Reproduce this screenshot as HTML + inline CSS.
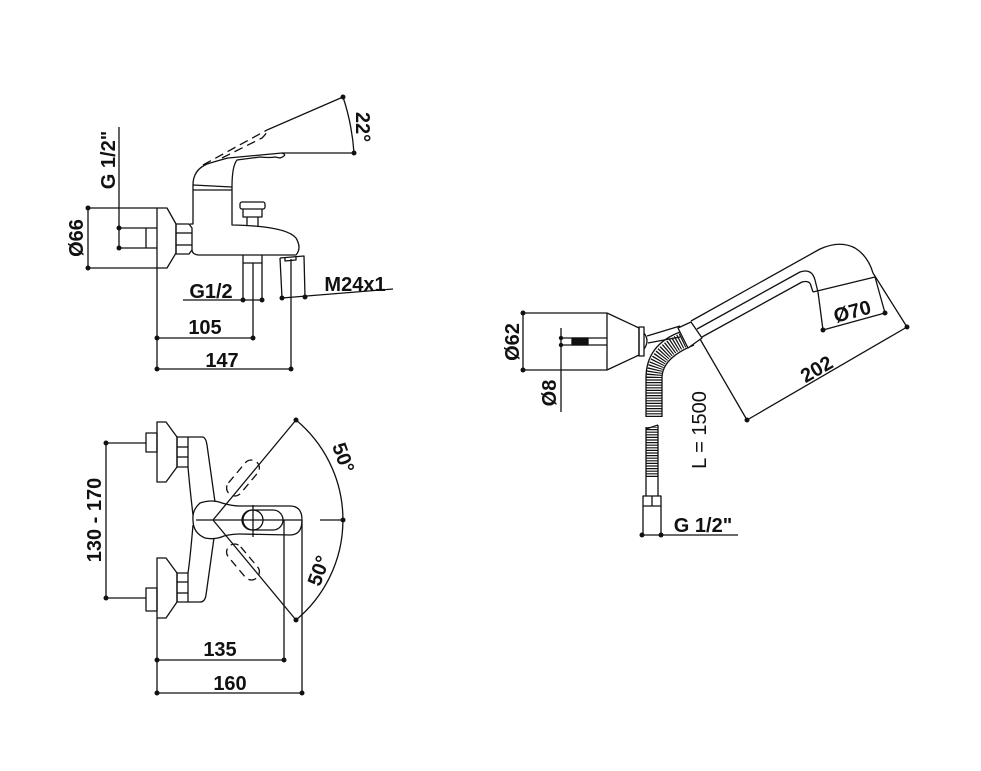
<!DOCTYPE html>
<html><head><meta charset="utf-8"><style>
html,body{margin:0;padding:0;background:#fff}
svg{display:block}
text{font-family:"Liberation Sans",sans-serif;font-weight:bold;font-size:20px;fill:#111}
</style></head><body>
<svg width="981" height="771" viewBox="0 0 981 771" xmlns="http://www.w3.org/2000/svg">
<g fill="none" stroke="#111" stroke-width="1.3" stroke-linejoin="round">
<line x1="88" y1="208" x2="88" y2="268"/>
<line x1="88" y1="208" x2="157" y2="208"/>
<line x1="88" y1="268" x2="157" y2="268"/>
<line x1="119" y1="127" x2="119" y2="248"/>
<line x1="119" y1="228" x2="157" y2="228"/>
<line x1="119" y1="248" x2="157" y2="248"/>
<line x1="146" y1="228" x2="146" y2="248"/>
<path d="M157,208 L167,208 L176,224 L176,253 L167,268 L157,268 Z"/>
<path d="M176,224 L189,224 L192,228 L192,250 L189,254 L176,254 Z"/>
<line x1="176" y1="233" x2="192" y2="233"/><line x1="176" y1="245" x2="192" y2="245"/>
<path d="M190,224 L193,224 L193,190 L232,190 L232,225 Q286,226 296,238 Q302,248 296,255 L198,255 Q192,254 192,250"/>
<path d="M193,190 L193,185 L232,187 L232,190"/>
<path d="M193,185 Q193,170 207,164 Q220,160 228,158 L282,153 Q288,155 280,158 L275,157 Q270,158 260,157 L237,160 Q232,166 232,187"/>
<line x1="282" y1="153" x2="354" y2="153"/>
<path d="M203,165 L267,130" stroke-dasharray="9 5"/>
<path d="M222,158 L262,138 Q268,132 267,130" stroke-dasharray="9 5"/>
<line x1="267" y1="130" x2="343" y2="97"/>
<path d="M343,97 Q352,124 354,153"/>
<rect x="240" y="202" width="25" height="7" rx="2"/>
<path d="M243,209 L243,217 L262,217 L262,209"/>
<path d="M247,217 L247,226 M258,217 L258,226"/>
<path d="M243,255 L243,263 L262,263 L262,255"/>
<line x1="243" y1="263" x2="243" y2="300"/><line x1="262" y1="263" x2="262" y2="300"/>
<line x1="253" y1="263" x2="253" y2="338"/>
<line x1="183" y1="300" x2="262" y2="300"/>
<path d="M280,258 L304,256 L305,297 M280,258 L282,298"/>
<path d="M285,257 L285,261 L296,260 L296,256"/>
<line x1="282" y1="298" x2="393" y2="289"/>
<line x1="291" y1="259" x2="291" y2="369"/>
<line x1="157" y1="268" x2="157" y2="369"/>
<line x1="157" y1="338" x2="253" y2="338"/>
<line x1="157" y1="369" x2="291" y2="369"/>

<line x1="106" y1="443" x2="106" y2="598"/>
<line x1="106" y1="443" x2="146" y2="443"/>
<line x1="106" y1="598" x2="146" y2="598"/>
<rect x="146" y="433" width="11" height="19"/>
<path d="M157,422 L166,422 L177,437 L177,467 L166,482 L157,482 Z"/>
<rect x="177" y="437" width="11" height="30"/>
<line x1="177" y1="447" x2="188" y2="447"/><line x1="177" y1="457" x2="188" y2="457"/>
<rect x="146" y="588" width="11" height="23"/>
<path d="M157,558 L166,558 L177,573 L177,602 L166,618 L157,618 Z"/>
<rect x="177" y="573" width="11" height="29"/>
<line x1="177" y1="582" x2="188" y2="582"/><line x1="177" y1="593" x2="188" y2="593"/>
<path d="M188,437 L203,437 Q206,438 207,445 L215,502"/>
<path d="M188,467 Q190,490 193,515"/>
<path d="M193,525 Q190,560 188,573"/>
<path d="M214,538 L206,595 Q205,602 200,602 L188,602"/>
<path d="M222,503 Q212,499 200,503 Q192,510 193,520 Q193,533 205,538 Q215,540 224,536 Q232,534 240,534 L290,535 Q302,535 302,520 Q302,506 290,506 L240,506 Q232,506 222,503 Z"/>
<rect x="242" y="510" width="41" height="20" rx="10"/>
<circle cx="253" cy="520" r="10"/>
<line x1="253" y1="505" x2="253" y2="537"/>
<line x1="196" y1="520" x2="302" y2="520"/>
<line x1="320" y1="520" x2="343" y2="520"/>
<line x1="213" y1="520" x2="296" y2="420"/>
<line x1="213" y1="520" x2="296" y2="620"/>
<path d="M296,420 A130,130 0 0 1 296,620"/>
<rect x="222" y="470" width="42" height="16" rx="8" transform="rotate(-50 243 478)" stroke-dasharray="8 5"/>
<rect x="222" y="554" width="42" height="16" rx="8" transform="rotate(50 243 562)" stroke-dasharray="8 5"/>
<line x1="284" y1="520" x2="284" y2="660"/>
<line x1="302" y1="520" x2="302" y2="693"/>
<line x1="157" y1="618" x2="157" y2="693"/>
<line x1="157" y1="660" x2="284" y2="660"/>
<line x1="157" y1="693" x2="302" y2="693"/>

<line x1="523" y1="313" x2="523" y2="370"/>
<line x1="523" y1="313" x2="607" y2="313"/>
<line x1="523" y1="370" x2="607" y2="370"/>
<line x1="607" y1="313" x2="607" y2="370"/>
<path d="M607,313 L639,328 L639,355 L607,370"/>
<rect x="639" y="327" width="5" height="29"/>
<path d="M644,333 Q650,341 644,349"/>
<line x1="561" y1="328" x2="561" y2="412"/>
<line x1="561" y1="338" x2="607" y2="338"/>
<line x1="561" y1="345" x2="607" y2="345"/>
<rect x="572" y="338" width="16" height="7" fill="#111"/>
<path d="M647,336 L680,326 M648,343 L680,337"/>
<path d="M654,417 L654,378 Q654,352 688,338" stroke-width="15" stroke-dasharray="1.2 1.4"/>
<path d="M646,417 L646,378 Q646,345 680,332"/>
<path d="M662,417 L662,378 Q662,358 694,345"/>
<line x1="652" y1="477" x2="652" y2="427" stroke-width="12" stroke-dasharray="1.2 1.4"/>
<path d="M646,427 L646,477 M658,425 L658,477 M646,429 L658,425"/>
<path d="M646,477 L646,496 M658,477 L658,496"/>
<rect x="643" y="496" width="18" height="10"/>
<line x1="652" y1="496" x2="652" y2="506"/>
<path d="M643,506 L643,535 M661,506 L661,535"/>
<line x1="642" y1="535" x2="738" y2="535"/>
<path d="M678,328 L691,322 L702,338 L688,348 Z" fill="#fff"/>
<path d="M691,321 L820,249 Q840,240 855,248 Q868,256 873,273 L907,327"/>
<path d="M697,329 L800,272 Q812,268 815,280 L818,292"/>
<path d="M702,337 L802,282 Q810,280 811,286 L813,292"/>
<line x1="813" y1="292" x2="875" y2="277"/>
<line x1="818" y1="292" x2="823" y2="330"/>
<line x1="875" y1="277" x2="885" y2="313"/>
<line x1="823" y1="330" x2="885" y2="313"/>
<line x1="700" y1="339" x2="747" y2="420"/>
<line x1="747" y1="420" x2="907" y2="327"/>
</g>
<g fill="#111">
<circle cx="88" cy="208" r="2.5"/><circle cx="88" cy="268" r="2.5"/>
<circle cx="119" cy="228" r="2.5"/><circle cx="119" cy="248" r="2.5"/>
<circle cx="343" cy="97" r="2.5"/><circle cx="354" cy="153" r="2.5"/>
<circle cx="243" cy="300" r="2.5"/><circle cx="262" cy="300" r="2.5"/>
<circle cx="282" cy="298" r="2.5"/><circle cx="305" cy="297" r="2.5"/>
<circle cx="157" cy="338" r="2.5"/><circle cx="253" cy="338" r="2.5"/>
<circle cx="157" cy="369" r="2.5"/><circle cx="291" cy="369" r="2.5"/>
<circle cx="106" cy="443" r="2.5"/><circle cx="106" cy="598" r="2.5"/>
<circle cx="296" cy="420" r="2.5"/><circle cx="296" cy="620" r="2.5"/><circle cx="343" cy="520" r="2.5"/>
<circle cx="157" cy="660" r="2.5"/><circle cx="284" cy="660" r="2.5"/>
<circle cx="157" cy="693" r="2.5"/><circle cx="302" cy="693" r="2.5"/>
<circle cx="523" cy="313" r="2.5"/><circle cx="523" cy="370" r="2.5"/>
<circle cx="561" cy="338" r="2.2"/><circle cx="561" cy="345" r="2.2"/>
<circle cx="642" cy="535" r="2.5"/><circle cx="661" cy="535" r="2.5"/>
<circle cx="823" cy="330" r="2.5"/><circle cx="885" cy="313" r="2.5"/>
<circle cx="747" cy="420" r="2.5"/><circle cx="907" cy="327" r="2.5"/>
</g>
<text transform="translate(115,160) rotate(-90)" text-anchor="middle">G 1/2"</text>
<text transform="translate(83,238) rotate(-90)" text-anchor="middle">Ø66</text>
<text transform="translate(356,127) rotate(90)" text-anchor="middle">22°</text>
<text x="211" y="298" text-anchor="middle">G1/2</text>
<text x="355" y="291" text-anchor="middle">M24x1</text>
<text x="205" y="334" text-anchor="middle">105</text>
<text x="222" y="367" text-anchor="middle">147</text>
<text transform="translate(101,520) rotate(-90)" text-anchor="middle">130 - 170</text>
<text transform="translate(337,460) rotate(70)" text-anchor="middle">50°</text>
<text transform="translate(325,573) rotate(-70)" text-anchor="middle">50°</text>
<text x="220" y="656" text-anchor="middle">135</text>
<text x="230" y="690" text-anchor="middle">160</text>
<text transform="translate(519,342) rotate(-90)" text-anchor="middle">Ø62</text>
<text transform="translate(556,393) rotate(-90)" text-anchor="middle">Ø8</text>
<text transform="translate(706,430) rotate(-90)" text-anchor="middle" style="font-weight:normal">L = 1500</text>
<text x="703" y="532" text-anchor="middle">G 1/2"</text>
<text transform="translate(854,318) rotate(-15)" text-anchor="middle">Ø70</text>
<text transform="translate(820,375) rotate(-30)" text-anchor="middle">202</text>
</svg>
</body></html>
